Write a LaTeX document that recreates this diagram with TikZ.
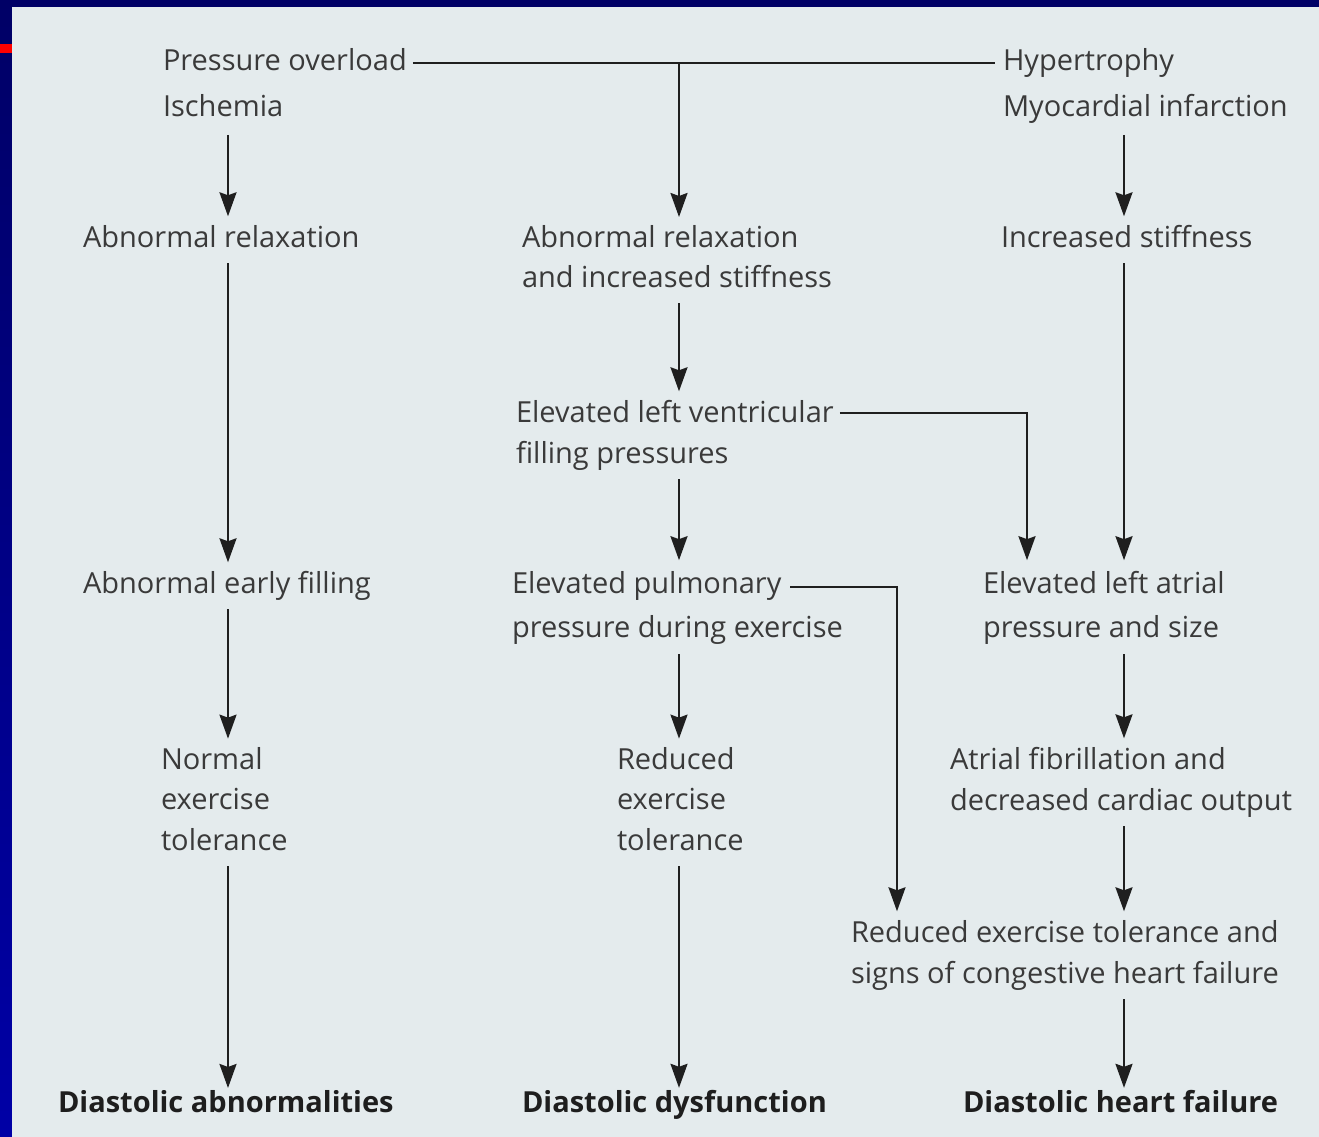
\documentclass[tikz,border=0pt]{standalone}
\usepackage{fontspec}
\setmainfont{Open Sans}
\usetikzlibrary{arrows.meta}
\definecolor{navytop}{HTML}{000066}
\definecolor{navybot}{HTML}{0000A6}
\definecolor{panel}{HTML}{E4EBED}
\definecolor{txtc}{HTML}{3A3A3A}
\definecolor{boldc}{HTML}{1E1E1E}
\definecolor{linec}{HTML}{1F1F1F}
\newcommand\lns[2]{\fontsize{29}{#1}\selectfont\begin{tabular}[t]{@{}l@{}}#2\end{tabular}}
\tikzset{
  txt/.style={anchor=base west, inner sep=0pt, outer sep=0pt, text=txtc},
  bld/.style={anchor=base west, inner sep=0pt, outer sep=0pt, text=boldc, font=\fontsize{29}{41}\selectfont\bfseries},
  conn/.style={draw=linec, line width=2.3pt},
  arr/.style={conn, -{Stealth[length=24pt,width=17pt,inset=3pt]}, shorten <=4pt, shorten >=2pt}
}
\begin{document}
\begin{tikzpicture}[x=1pt,y=-1pt]
\useasboundingbox (0,0) rectangle (1319,1137);
\shade[top color=navytop, bottom color=navybot] (0,0) rectangle (1319,1137);
\fill[panel] (12,7) rectangle (1319,1137);
\fill[red] (0,44) rectangle (12,53);

% column coordinates
\coordinate (cL) at (228,0);
\coordinate (cM) at (679,0);
\coordinate (cR) at (1124,0);

% row 1
\node[txt] (po) at (163,71) {\lns{46}{Pressure overload\\Ischemia}};
\node[txt] (hy) at (1003,71) {\lns{46}{Hypertrophy\\Myocardial infarction}};
% row 2
\node[txt] (ar1) at (83,247) {\lns{41}{Abnormal relaxation}};
\node[txt] (ar2) at (522,247) {\lns{40}{Abnormal relaxation\\and increased stiffness}};
\node[txt] (is) at (1001,247) {\lns{41}{Increased stiffness}};
% row 3
\node[txt] (ev) at (516,422) {\lns{41}{Elevated left ventricular\\filling pressures}};
% row 4
\node[txt] (ef) at (83,593) {\lns{41}{Abnormal early filling}};
\node[txt] (ep) at (512,593) {\lns{44}{Elevated pulmonary\\pressure during exercise}};
\node[txt] (la) at (983,593) {\lns{44}{Elevated left atrial\\pressure and size}};
% row 5
\node[txt] (nt) at (161,769) {\lns{40.5}{Normal\\exercise\\tolerance}};
\node[txt] (rt) at (617,769) {\lns{40.5}{Reduced\\exercise\\tolerance}};
\node[txt] (af) at (950,769) {\lns{41}{Atrial fibrillation and\\decreased cardiac output}};
% row 6
\node[txt] (rc) at (851,942) {\lns{41}{Reduced exercise tolerance and\\signs of congestive heart failure}};
% bottom
\node[bld] (da) at (58,1112) {Diastolic abnormalities};
\node[bld] (dd) at (522,1112) {Diastolic dysfunction};
\node[bld] (dh) at (963,1112) {Diastolic heart failure};

% top junction
\coordinate (j1) at (679,63);
\draw[conn] ([xshift=6pt]po.east |- j1) -- ([xshift=-8pt]hy.west |- j1);

% left column
\draw[arr] (po.south -| cL) -- (ar1.north -| cL);
\draw[arr] (ar1.south -| cL) -- (ef.north -| cL);
\draw[arr] (ef.south -| cL) -- (nt.north -| cL);
\draw[arr] (nt.south -| cL) -- (da.north -| cL);

% middle column
\draw[arr, shorten <=0pt] (j1) -- (ar2.north -| cM);
\draw[arr] (ar2.south -| cM) -- (ev.north -| cM);
\draw[arr] (ev.south -| cM) -- (ep.north -| cM);
\draw[arr] (ep.south -| cM) -- (rt.north -| cM);
\draw[arr] (rt.south -| cM) -- (dd.north -| cM);

% right column
\draw[arr] (hy.south -| cR) -- (is.north -| cR);
\draw[arr] (is.south -| cR) -- (la.north -| cR);
\draw[arr] (la.south -| cR) -- (af.north -| cR);
\draw[arr] (af.south -| cR) -- (rc.north -| cR);
\draw[arr] (rc.south -| cR) -- (dh.north -| cR);

% elbow connectors
\coordinate (k1) at (1027,413);
\draw[arr, shorten <=0pt] ([xshift=6pt]ev.east |- k1) -- (k1) -- (k1 |- la.north);
\coordinate (k2s) at (790,587);
\coordinate (k2) at (897,587);
\draw[arr, shorten <=0pt] (k2s) -- (k2) -- (k2 |- rc.north);
\end{tikzpicture}
\end{document}
